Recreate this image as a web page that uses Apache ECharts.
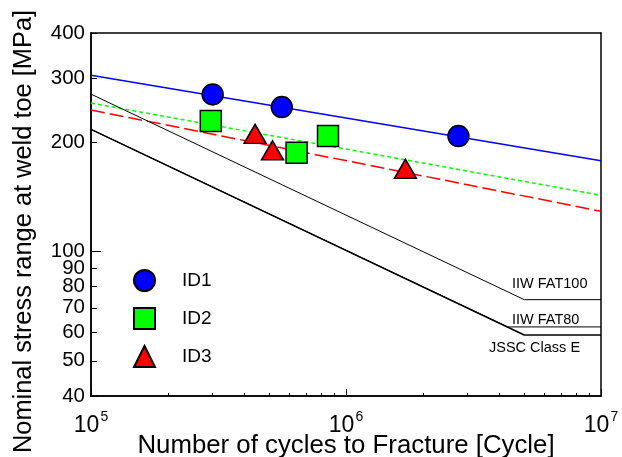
<!DOCTYPE html>
<html>
<head>
<meta charset="utf-8">
<script src="https://cdn.jsdelivr.net/npm/echarts@6/dist/echarts.min.js"></script>
<style>html,body{margin:0;padding:0;background:#fff}#c{width:622px;height:457px}</style>
</head>
<body>
<div id="c"></div>
<script>
// ---- data ----
const xMajorTicks = [1e5, 1e6, 1e7];
const xMinorTicks = [2e5,3e5,4e5,5e5,6e5,7e5,8e5,9e5,2e6,3e6,4e6,5e6,6e6,7e6,8e6,9e6];
const yTickLabels = [40,50,60,70,80,90,100,200,300,400];
const yMinorTicks = [40,50,60,70,80,90,200,300,400];
const yMajorTicks = [100];

const id1 = [[3.0e5, 271], [5.6e5, 250], [2.76e6, 208]];
const id2 = [[2.95e5, 229], [6.4e5, 187], [8.5e5, 208]];
const id3 = [[4.4e5, 211], [5.15e5, 190], [1.71e6, 169]];

const fitID1 = [[1e5, 306], [1e7, 178]];
const fitID2 = [[1e5, 256.6], [1e7, 142.9]];
const fitID3 = [[1e5, 245.4], [1e7, 129.1]];

const iiwFat100 = [[1e5, 271.4], [5e6, 73.7], [1e7, 73.7]];
const iiwFat80 = [[1e5, 217.1], [4.3e6, 62], [1e7, 62]];
const jsscE = [[1e5, 217.1], [5e6, 58.9], [1e7, 58.9]];

const curveNames = ['IIW FAT100', 'IIW FAT80', 'JSSC Class E'];
const seriesNames = ['ID1', 'ID2', 'ID3'];

// ---- chart ----
const FONT = 'Liberation Sans';
const chart = echarts.init(document.getElementById('c'), null, {renderer: 'canvas'});
const axisLine = {show: true, lineStyle: {color: '#000', width: 1.5}};
const baseX = {type: 'log', logBase: 10, min: 1e5, max: 1e7, gridIndex: 0, splitLine: {show: false}};
const baseY = {type: 'log', logBase: 10, min: 40, max: 400, gridIndex: 0, splitLine: {show: false}};

const option = {
  backgroundColor: '#fff',
  animation: false,
  textStyle: {fontFamily: FONT},
  grid: {left: 91, right: 21, top: 33, bottom: 61, containLabel: false, outerBoundsMode: 'none'},
  xAxis: [
    Object.assign({}, baseX, {position: 'bottom', axisLine,
      axisTick: {show: true, inside: true, length: 3, customValues: xMinorTicks, lineStyle: {color: '#000', width: 1}},
      axisLabel: {show: false}}),
    Object.assign({}, baseX, {position: 'bottom', axisLine,
      axisTick: {show: true, inside: true, length: 7, customValues: xMajorTicks, lineStyle: {color: '#000', width: 1}},
      axisLabel: {show: true, customValues: xMajorTicks, margin: 18, color: '#000',
        formatter: v => '{b|10}{s|' + Math.round(Math.log10(v)) + '}',
        rich: {b: {fontSize: 23, fontFamily: FONT, color: '#000', verticalAlign: 'bottom', lineHeight: 23},
               s: {fontSize: 14, fontFamily: FONT, color: '#000', verticalAlign: 'bottom', lineHeight: 14, padding: [0, 0, 13, 1]}}},
      name: 'Number of cycles to Fracture [Cycle]', nameLocation: 'middle', nameGap: 37, nameMoveOverlap: false,
      nameTextStyle: {fontSize: 25.8, color: '#000', fontFamily: FONT}}),
    Object.assign({}, baseX, {position: 'top', axisLine, axisTick: {show: false}, axisLabel: {show: false}})
  ],
  yAxis: [
    Object.assign({}, baseY, {position: 'left', axisLine,
      axisTick: {show: true, inside: true, length: 6, customValues: yMinorTicks, lineStyle: {color: '#000', width: 1}},
      axisLabel: {show: true, customValues: yTickLabels, margin: 6, fontSize: 20.5, color: '#000', fontFamily: FONT},
      name: 'Nominal stress range at weld toe [MPa]', nameLocation: 'middle', nameGap: 55, nameRotate: 90, nameMoveOverlap: false,
      nameTextStyle: {fontSize: 25.4, color: '#000', fontFamily: FONT, padding: [0, 34, 0, 0]}}),
    Object.assign({}, baseY, {position: 'left', axisLine,
      axisTick: {show: true, inside: true, length: 10, customValues: yMajorTicks, lineStyle: {color: '#000', width: 1}},
      axisLabel: {show: false}}),
    Object.assign({}, baseY, {position: 'right', axisLine, axisTick: {show: false}, axisLabel: {show: false}})
  ],
  legend: {
    data: seriesNames, orient: 'vertical', left: 128, top: 264,
    itemWidth: 21, itemHeight: 21, itemGap: 15,
    textStyle: {fontSize: 19, color: '#000', fontFamily: FONT, padding: [0, 0, 0, 22]}
  },
  graphic: [
    {type: 'text', left: 512, top: 276, style: {text: curveNames[0], fontSize: 14.5, fontFamily: FONT, fill: '#000'}},
    {type: 'text', left: 512, top: 312, style: {text: curveNames[1], fontSize: 14.5, fontFamily: FONT, fill: '#000'}},
    {type: 'text', left: 489, top: 340, style: {text: curveNames[2], fontSize: 14.5, fontFamily: FONT, fill: '#000'}}
  ],
  series: [
    {type: 'line', name: 'fit1', data: fitID1, symbol: 'none', lineStyle: {color: '#0000ff', width: 1.5}, z: 2},
    {type: 'line', name: 'fit2', data: fitID2, symbol: 'none', lineStyle: {color: '#00ff00', width: 1.5, type: [4, 3]}, z: 2},
    {type: 'line', name: 'fit3', data: fitID3, symbol: 'none', lineStyle: {color: '#ff0000', width: 1.5, type: [14, 5]}, z: 2},
    {type: 'line', name: curveNames[0], data: iiwFat100, symbol: 'none', lineStyle: {color: '#000', width: 1}, z: 2},
    {type: 'line', name: curveNames[1], data: iiwFat80, symbol: 'none', lineStyle: {color: '#000', width: 1}, z: 2},
    {type: 'line', name: curveNames[2], data: jsscE, symbol: 'none', lineStyle: {color: '#000', width: 1.5}, z: 2},
    {type: 'scatter', name: 'ID1', data: id1, symbol: 'circle', symbolSize: 21,
      itemStyle: {color: '#0000ff', borderColor: '#000', borderWidth: 1.5, opacity: 1}, z: 5},
    {type: 'scatter', name: 'ID2', data: id2, symbol: 'rect', symbolSize: 21,
      itemStyle: {color: '#00ff00', borderColor: '#000', borderWidth: 1.5, opacity: 1}, z: 5},
    {type: 'scatter', name: 'ID3', data: id3, symbol: 'triangle', symbolSize: [22, 19],
      itemStyle: {color: '#ff0000', borderColor: '#000', borderWidth: 1.5, opacity: 1}, z: 5}
  ]
};
chart.setOption(option);
</script>
</body>
</html>
